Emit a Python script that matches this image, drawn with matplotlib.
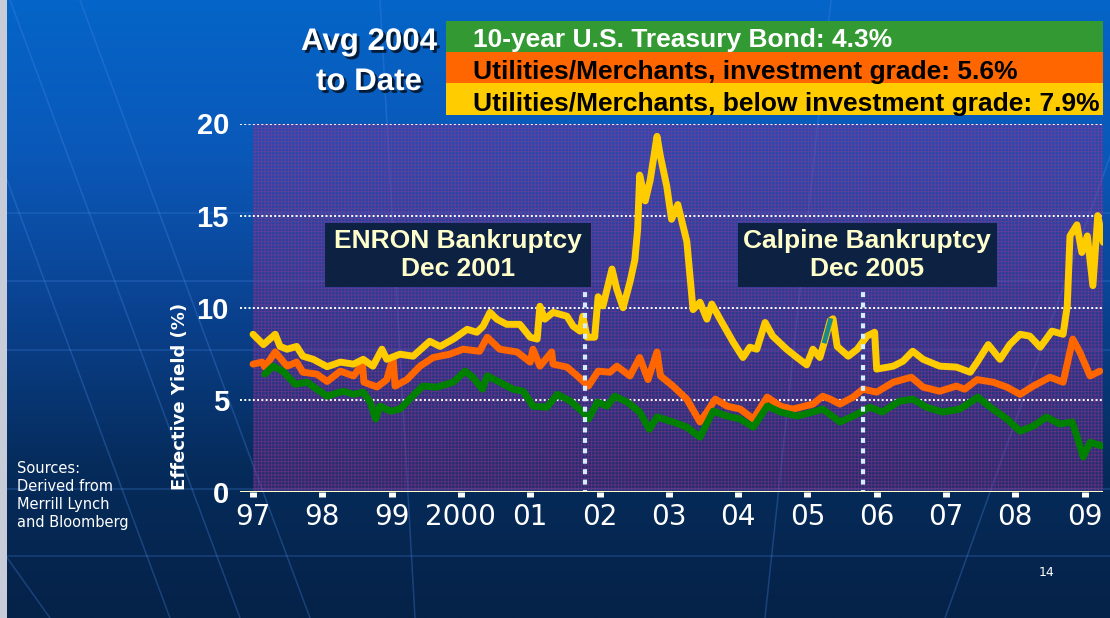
import numpy as np
import matplotlib.pyplot as plt
import matplotlib.patheffects as pe
from matplotlib.patches import Rectangle
from matplotlib.colors import LinearSegmentedColormap

# effective yields (%), x in fractional years
junk_years = [1997.00, 1997.15, 1997.32, 1997.39, 1997.49, 1997.63, 1997.72, 1997.87,
              1998.07, 1998.26, 1998.45, 1998.59, 1998.73, 1998.86, 1998.93, 1999.12,
              1999.31, 1999.55, 1999.70, 1999.89, 2000.09, 2000.23, 2000.32, 2000.42,
              2000.52, 2000.66, 2000.85, 2001.00, 2001.10, 2001.14, 2001.21, 2001.33,
              2001.53, 2001.62, 2001.72, 2001.76, 2001.82, 2001.93, 2001.98, 2002.05,
              2002.18, 2002.25, 2002.34, 2002.44, 2002.51, 2002.55, 2002.58, 2002.66,
              2002.73, 2002.83, 2002.88, 2002.97, 2003.04, 2003.13, 2003.26, 2003.35,
              2003.45, 2003.55, 2003.62, 2003.74, 2003.93, 2004.07, 2004.17, 2004.27,
              2004.39, 2004.50, 2004.70, 2004.85, 2004.99, 2005.08, 2005.18, 2005.25,
              2005.33, 2005.37, 2005.43, 2005.59, 2005.72, 2005.86, 2005.97, 2006.00,
              2006.24, 2006.38, 2006.52, 2006.67, 2006.91, 2007.15, 2007.35, 2007.45,
              2007.61, 2007.78, 2007.92, 2008.07, 2008.21, 2008.36, 2008.53, 2008.69,
              2008.75, 2008.79, 2008.89, 2008.96, 2009.04, 2009.12, 2009.19, 2009.27]
junk_yield = [8.56, 8.0, 8.56, 7.9, 7.75, 7.9, 7.37, 7.2,
              6.8, 7.05, 6.94, 7.2, 6.83, 7.75, 7.2, 7.48,
              7.37, 8.18, 7.9, 8.3, 8.83, 8.67, 9.0, 9.75,
              9.38, 9.1, 9.1, 8.4, 8.3, 10.08, 9.38, 9.75,
              9.54, 9.0, 8.73, 9.54, 8.4, 8.4, 10.6, 10.1,
              12.1, 11.0, 10.0, 11.4, 12.6, 14.25, 17.2, 15.8,
              16.9, 19.3, 18.2, 16.6, 14.8, 15.6, 13.6, 9.9,
              10.3, 9.38, 10.2, 9.38, 8.13, 7.3, 7.86, 7.75,
              9.2, 8.46, 7.75, 7.3, 6.9, 7.75, 7.3, 8.2,
              9.3, 9.4, 7.9, 7.37, 7.75, 8.46, 8.67, 6.67,
              6.83, 7.1, 7.64, 7.2, 6.83, 6.78, 6.5, 7.05,
              8.0, 7.2, 8.0, 8.56, 8.46, 7.86, 8.73, 8.56,
              10.1, 13.9, 14.5, 13.0, 13.9, 11.2, 15.0, 13.55]

ig_years = [1997.00, 1997.13, 1997.17, 1997.32, 1997.49, 1997.63, 1997.72, 1997.92,
            1998.07, 1998.26, 1998.45, 1998.58, 1998.60, 1998.79, 1998.93, 1999.02,
            1999.05, 1999.22, 1999.41, 1999.60, 1999.84, 2000.03, 2000.27, 2000.38,
            2000.56, 2000.81, 2001.00, 2001.04, 2001.14, 2001.31, 2001.33, 2001.53,
            2001.68, 2001.84, 2001.98, 2002.15, 2002.25, 2002.44, 2002.58, 2002.70,
            2002.83, 2002.88, 2003.06, 2003.26, 2003.45, 2003.55, 2003.67, 2003.84,
            2004.03, 2004.22, 2004.42, 2004.61, 2004.79, 2005.08, 2005.22, 2005.33,
            2005.47, 2005.66, 2005.80, 2006.00, 2006.24, 2006.50, 2006.67, 2006.91,
            2007.15, 2007.27, 2007.45, 2007.68, 2007.88, 2008.07, 2008.26, 2008.50,
            2008.69, 2008.83, 2008.93, 2009.08, 2009.22]
ig_yield = [6.94, 7.05, 6.78, 7.6, 6.83, 7.05, 6.5, 6.4,
            6.0, 6.56, 6.3, 6.94, 5.96, 5.7, 6.1, 7.3,
            5.75, 6.1, 6.83, 7.3, 7.48, 7.75, 7.64, 8.4,
            7.75, 7.6, 7.05, 7.75, 6.83, 7.6, 6.94, 6.78,
            6.3, 5.75, 6.56, 6.5, 6.83, 6.3, 7.3, 6.1,
            7.6, 6.3, 5.75, 5.04, 3.8, 4.34, 5.04, 4.66,
            4.5, 3.96, 5.15, 4.66, 4.5, 4.77, 5.2, 5.04,
            4.77, 5.15, 5.58, 5.42, 5.96, 6.23, 5.69, 5.47,
            5.75, 5.58, 6.1, 5.96, 5.69, 5.3, 5.75, 6.23,
            5.96, 8.3, 7.6, 6.3, 6.56]

tsy_years = [1997.17, 1997.29, 1997.43, 1997.61, 1997.78, 1997.92, 1998.07, 1998.30,
             1998.45, 1998.59, 1998.69, 1998.77, 1998.83, 1998.98, 1999.12, 1999.26,
             1999.45, 1999.65, 1999.89, 2000.06, 2000.17, 2000.31, 2000.38, 2000.56,
             2000.75, 2000.90, 2001.04, 2001.24, 2001.39, 2001.58, 2001.76, 2001.84,
             2001.97, 2002.11, 2002.22, 2002.40, 2002.58, 2002.72, 2002.83, 2003.06,
             2003.26, 2003.45, 2003.64, 2003.84, 2004.03, 2004.22, 2004.42, 2004.61,
             2004.85, 2005.08, 2005.22, 2005.47, 2005.66, 2005.90, 2006.08, 2006.33,
             2006.52, 2006.72, 2006.95, 2007.20, 2007.46, 2007.64, 2007.88, 2008.07,
             2008.26, 2008.45, 2008.64, 2008.82, 2008.89, 2008.98, 2009.08, 2009.25]
tsy_yield = [6.4, 6.83, 6.56, 5.85, 5.96, 5.58, 5.2, 5.47,
             5.3, 5.42, 4.88, 3.96, 4.66, 4.39, 4.5, 5.04,
             5.75, 5.69, 5.96, 6.56, 6.23, 5.58, 6.3, 5.96,
             5.58, 5.47, 4.66, 4.6, 5.3, 4.93, 4.34, 3.96,
             4.88, 4.66, 5.2, 4.88, 4.34, 3.4, 4.07, 3.8,
             3.52, 2.98, 4.39, 4.12, 3.96, 3.52, 4.66, 4.34,
             4.12, 4.34, 4.5, 3.8, 4.12, 4.6, 4.34, 4.93,
             5.04, 4.6, 4.34, 4.5, 5.15, 4.6, 3.96, 3.3,
             3.58, 4.07, 3.69, 3.8, 3.03, 1.9, 2.7, 2.5]

tick_years = list(range(1997, 2010))
tick_labels = ["97", "98", "99", "2000", "01", "02", "03", "04", "05", "06", "07", "08", "09"]
y_ticks = [0, 5, 10, 15, 20]

legend_labels = ["10-year U.S. Treasury Bond: 4.3%",
                 "Utilities/Merchants, investment grade: 5.6%",
                 "Utilities/Merchants, below investment grade: 7.9%"]
legend_colors = ["#339933", "#ff6600", "#ffcc00"]
legend_text_colors = ["white", "black", "black"]

event_labels = ["ENRON Bankruptcy\nDec 2001", "Calpine Bankruptcy\nDec 2005"]
event_dates = [2001.79, 2005.80]

W, H = 1110, 618
fig = plt.figure(figsize=(W / 100, H / 100), dpi=100)

# background: blue gradient plus faint globe lines (pixel coordinates)
bg = fig.add_axes([0, 0, 1, 1])
bg.set_xlim(0, W)
bg.set_ylim(H, 0)
bg.axis("off")
grad = LinearSegmentedColormap.from_list("bg", ["#0565c8", "#0a58b8", "#0a4290", "#062c5c", "#052248"])
bg.imshow(np.linspace(0, 1, 256).reshape(-1, 1), cmap=grad, aspect="auto",
          extent=[0, W, H, 0], zorder=0)
for x0, x1 in [(-60, 170), (10, 240), (80, 310), (-390, 50), (380, 415), (831, 765), (1166, 945)]:
    bg.plot([x0, x1], [0, H], color="#4a8ae8", lw=1.1, alpha=0.3, zorder=1)
for yy in [213, 281, 350, 489, 556]:
    bg.plot([0, W], [yy, yy], color="#4a8ae8", lw=1.1, alpha=0.28, zorder=1)
bg.add_patch(Rectangle((0, 0), 7, H, facecolor="#c8ccd8", edgecolor="none", zorder=2))

# legend block
for i, (lab, col, tcol) in enumerate(zip(legend_labels, legend_colors, legend_text_colors)):
    top = [21, 52, 83][i]
    bot = [52, 83, 115][i]
    bg.add_patch(Rectangle((446, top), 1103 - 446, bot - top, facecolor=col,
                           edgecolor="none", zorder=3))
    bg.text(473, [47, 79, 111][i], lab, color=tcol, fontsize=19, fontweight="bold",
            family="Liberation Sans", va="baseline", ha="left", zorder=4)

shadow = [pe.withSimplePatchShadow(offset=(2, -2), shadow_rgbFace="black", alpha=0.7)]
bg.text(369, 50, "Avg 2004", color="white", fontsize=22.5, fontweight="bold",
        family="Liberation Sans", ha="center", va="baseline", path_effects=shadow, zorder=4)
bg.text(369, 90, "to Date", color="white", fontsize=22.5, fontweight="bold",
        family="Liberation Sans", ha="center", va="baseline", path_effects=shadow, zorder=4)

for k, line in enumerate(["Sources:", "Derived from", "Merrill Lynch", "and Bloomberg"]):
    bg.text(17, 473 + 18 * k, line, color="white", fontsize=10.5, family="DejaVu Sans",
            va="baseline", ha="left", zorder=4)
bg.text(1047, 572, "14", color="white", fontsize=9, family="DejaVu Sans",
        ha="center", va="center", zorder=4)
bg.text(180, 396, "Effective Yield (%)", color="white", fontsize=13, fontweight="bold",
        family="DejaVu Sans", rotation=90, ha="center", va="center", zorder=4)

# main chart
ax = fig.add_axes([240 / W, 1 - 492 / H, 863 / W, 368.5 / H])
ax.set_facecolor("none")
x_left, x_right = 1996.812, 2009.266
ax.set_xlim(x_left, x_right)
ax.set_ylim(0, 20)
for s in ax.spines.values():
    s.set_visible(False)

# translucent purple mesh over the blue gradient
plt.rcParams["hatch.linewidth"] = 0.6
ax.add_patch(Rectangle((1997, 0), x_right - 1997, 20, facecolor=(0.36, 0.2, 0.6, 0.36),
                       edgecolor=(0.72, 0.2, 0.55, 0.42), hatch="+++++", lw=0, zorder=0))

ax.hlines(y_ticks[1:], x_left, x_right, colors="white", linestyles=(0, (1, 1.2)),
          lw=1.4, zorder=1)
ax.axhline(0, color="#ffffcc", lw=2.2, zorder=5)

ax.plot(ig_years, ig_yield, color="#ff6600", lw=5, solid_joinstyle="round",
        solid_capstyle="round", zorder=3)
ax.plot(tsy_years, tsy_yield, color="#008000", lw=5, solid_joinstyle="round",
        solid_capstyle="round", zorder=3)
ax.plot(junk_years, junk_yield, color="#ffcc00", lw=5, solid_joinstyle="round",
        solid_capstyle="round", zorder=3)
# short teal stretch on the high-yield line in 2005
teal = [i for i, yr in enumerate(junk_years) if 2005.24 <= yr <= 2005.34]
ax.plot([junk_years[i] for i in teal], [junk_yield[i] for i in teal],
        color="#1a8a8a", lw=3.5, zorder=3.5)

# bankruptcy markers
box_x = [(1998.04, 2001.875), (2003.995, 2007.73)]
for lab, date, (bx0, bx1), top in zip(event_labels, event_dates, box_x, [11.0, 11.15]):
    ax.vlines(date, -0.15, top, colors="#d6ecff", lw=3, linestyles=(0, (1.2, 1.3)), zorder=4)
    ax.add_patch(Rectangle((bx0, 11.13), bx1 - bx0, 3.47, facecolor="#0d2142",
                           edgecolor="none", zorder=6))
    ax.text((bx0 + bx1) / 2, 12.87, lab, color="#ffffcc", fontsize=19, fontweight="bold",
            family="Liberation Sans", ha="center", va="center", linespacing=1.2, zorder=7)

ax.set_xticks(tick_years)
ax.set_xticklabels(tick_labels, fontsize=20, family="DejaVu Sans", color="white")
ax.tick_params(axis="x", direction="out", length=3.6, width=5, color="white", pad=4)
ax.set_yticks(y_ticks)
ax.set_yticklabels([str(v) for v in y_ticks], fontsize=21, fontweight="bold",
                   family="Liberation Sans", color="white")
ax.tick_params(axis="y", length=0, pad=8)

fig.savefig("out.png", dpi=100)
